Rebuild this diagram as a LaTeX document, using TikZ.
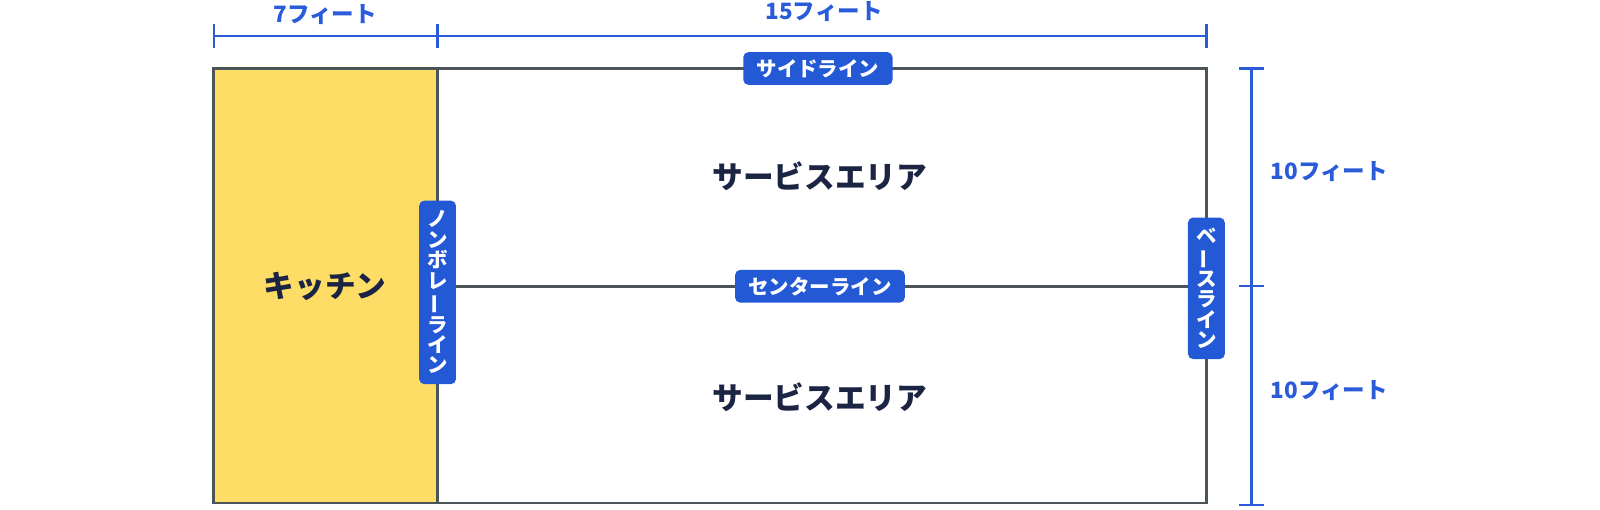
\documentclass[tikz,border=0pt]{standalone}
\usepackage{fontspec}
\usepackage{graphicx}
\setmainfont{Noto Sans CJK JP}
\usetikzlibrary{positioning}
\definecolor{dimblue}{HTML}{2A5BD8}
\definecolor{tagblue}{HTML}{2459D6}
\definecolor{courtgray}{HTML}{4B5459}
\definecolor{kitchenyellow}{HTML}{FDDD66}
\definecolor{inkblue}{HTML}{1B2442}
\newcommand{\vchoon}{\rotatebox[origin=c]{90}{ー}}

\begin{document}
\begin{tikzpicture}[x=0.5pt, y=-0.5pt]
	\tikzstyle{every node} = [inner sep=0pt]
	\tikzstyle{tag}  = [fill=tagblue, text=white, rounded corners=2.5pt,
	                    font=\bfseries\fontsize{10}{12}\selectfont,
	                    inner xsep=6.5pt, minimum height=16pt]
	\tikzstyle{vtag} = [fill=tagblue, text=white, rounded corners=2.5pt,
	                    font=\bfseries\fontsize{10}{10}\selectfont,
	                    align=center, minimum width=18pt, inner ysep=5pt]
	\tikzstyle{area} = [text=inkblue, font=\bfseries\fontsize{15}{17}\selectfont]
	\tikzstyle{dim}  = [text=dimblue, font=\bfseries\fontsize{11}{13}\selectfont]
	\tikzstyle{dimline} = [draw=dimblue, line width=1.1pt]
	\tikzstyle{court}   = [draw=courtgray, line width=1.4pt]
	\fill[white] (0,0) rectangle (1565,498);
	% court corners
	\coordinate (tl) at (209,67);
	\coordinate (tr) at (1180,67);
	\coordinate (bl) at (209,492);
	\coordinate (br) at (1180,492);
	\coordinate (kt) at (428,67);
	\coordinate (kb) at (428,492);
	\coordinate (cl) at (428,280);
	\coordinate (cr) at (1180,280);
	% kitchen and court
	\fill[kitchenyellow] (tl) rectangle (kb);
	\draw[court] (tl) rectangle (br);
	\draw[court] (kt) -- (kb);
	\draw[court] (cl) -- (cr);
	% area names
	\node[area] (kitchen) at (318,280) {キッチン};
	\node[area] (serveup) at (802,172) {サービスエリア};
	\node[area] (servedn) at (802,389) {サービスエリア};
	% line tags
	\node[tag]  (side)   at (800,67)  {サイドライン};
	\node[tag]  (center) at (802,280) {センターライン};
	\node[vtag] (nvz)    at (428,286) {ノ\\ン\\ボ\\レ\\\vchoon\\ラ\\イ\\ン};
	\node[vtag] (base)   at (1180,282) {ベ\\\vchoon\\ス\\ラ\\イ\\ン};
	% top dimensions
	\coordinate (d0) at (209,35);
	\coordinate (d1) at (428,35);
	\coordinate (d2) at (1180,35);
	\draw[dimline] (d0) -- (d2);
	\draw[dimline] ([yshift=6pt]d0) -- ([yshift=-6pt]d0);
	\draw[dimline, line width=1.7pt] ([yshift=6pt]d1) -- ([yshift=-6pt]d1);
	\draw[dimline] ([yshift=6pt]d2) -- ([yshift=-6pt]d2);
	\node[dim] (seven)   at (318,14) {7フィート};
	\node[dim] (fifteen) at (806,11) {15フィート};
	% right dimensions
	\coordinate (r0) at (1224,67);
	\coordinate (r1) at (1224,280);
	\coordinate (r2) at (1224,494);
	\draw[dimline] (r0) -- (r2);
	\foreach \r in {r0,r1,r2}
		\draw[dimline] ([xshift=-6pt]\r) -- ([xshift=6pt]\r);
	\node[dim] (tenup) at (1300,168) {10フィート};
	\node[dim] (tendn) at (1300,382) {10フィート};
	% frame of the picture
	\pgfresetboundingbox
	\useasboundingbox (0,0) rectangle (1565,498);
\end{tikzpicture}
\end{document}
